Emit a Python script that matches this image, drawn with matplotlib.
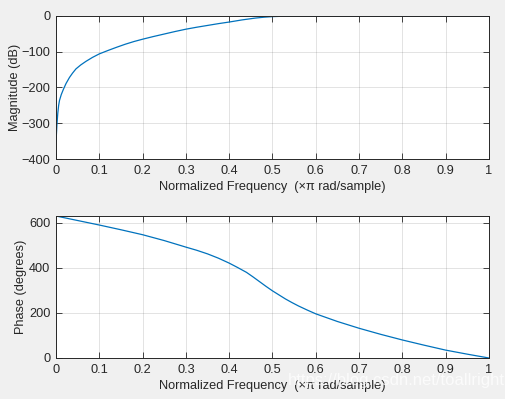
import matplotlib.pyplot as plt

# Magnitude response
freq_mag = [0.0, 0.002, 0.004, 0.006, 0.008, 0.012, 0.017, 0.023, 0.031, 0.038, 0.046, 0.057,
            0.069, 0.084, 0.1, 0.12, 0.14, 0.16, 0.18, 0.2, 0.225, 0.25, 0.275, 0.3,
            0.325, 0.35, 0.375, 0.4, 0.43, 0.46, 0.48, 0.5, 0.53, 0.56, 0.6, 0.7, 1.0]
mag_db = [-350, -305, -272, -250, -236, -220, -205, -189, -172, -160, -148, -137,
          -127, -116, -106, -96.5, -87.5, -79, -71.5, -65, -57.5, -50.5, -43.5, -37,
          -31.5, -26.5, -21.5, -17, -11, -6, -3.5, -1.8, -0.6, -0.2, 0, 0, 0]

# Phase response
freq_ph = [0.0, 0.05, 0.1, 0.15, 0.2, 0.25, 0.3, 0.325, 0.35, 0.375, 0.4, 0.42,
           0.44, 0.455, 0.47, 0.485, 0.5, 0.515, 0.53, 0.545, 0.56, 0.58, 0.6,
           0.65, 0.7, 0.75, 0.8, 0.85, 0.9, 0.95, 1.0]
phase_deg = [630, 610, 590, 569, 547, 521, 492, 478, 462, 443, 421, 401,
             380, 360, 339, 318, 298, 280, 262, 246, 231, 213, 196,
             162, 132, 105, 80, 57, 35, 17, 0]

xticks = [0, 0.1, 0.2, 0.3, 0.4, 0.5, 0.6, 0.7, 0.8, 0.9, 1]
xticklabels = ['0', '0.1', '0.2', '0.3', '0.4', '0.5', '0.6', '0.7', '0.8', '0.9', '1']

plt.rcParams['font.family'] = ['Liberation Sans', 'DejaVu Sans']
plt.rcParams['font.size'] = 9.2

fig = plt.figure(figsize=(5.05, 3.99), dpi=100, facecolor='#f0f0f0')
ax1 = fig.add_axes([0.111, 0.6015, 0.857, 0.3585])
ax2 = fig.add_axes([0.111, 0.1028, 0.857, 0.3558])


def style(ax):
    ax.set_facecolor('white')
    ax.set_xlim(0, 1)
    ax.set_xticks(xticks)
    ax.set_xticklabels(xticklabels)
    ax.grid(True, color='#262626', alpha=0.15, linewidth=0.6)
    ax.tick_params(direction='in', top=True, right=True, length=4, width=0.6,
                   colors='#262626', labelcolor='#262626', pad=4)
    for s in ax.spines.values():
        s.set_color('#262626')
        s.set_linewidth(0.7)
    ax.set_xlabel('Normalized Frequency  (×π rad/sample)', color='#262626', labelpad=3)


ax1.plot(freq_mag, mag_db, color='#0072bd', linewidth=0.9)
style(ax1)
ax1.set_ylim(-400, 0)
ax1.set_yticks([-400, -300, -200, -100, 0])
ax1.set_ylabel('Magnitude (dB)', color='#262626')

ax2.plot(freq_ph, phase_deg, color='#0072bd', linewidth=0.9)
style(ax2)
ax2.set_ylim(0, 630)
ax2.set_yticks([0, 200, 400, 600])
ax2.set_ylabel('Phase (degrees)', color='#262626')
ax1.yaxis.set_label_coords(-0.08, 0.5)
ax2.yaxis.set_label_coords(-0.068, 0.5)

# blog watermark
fig.text(0.57, 0.047, 'https://blog.csdn.net/toallright', color='white', alpha=0.75,
         fontsize=12, ha='left', va='center')

fig.savefig('out.png', dpi=100, facecolor=fig.get_facecolor())
